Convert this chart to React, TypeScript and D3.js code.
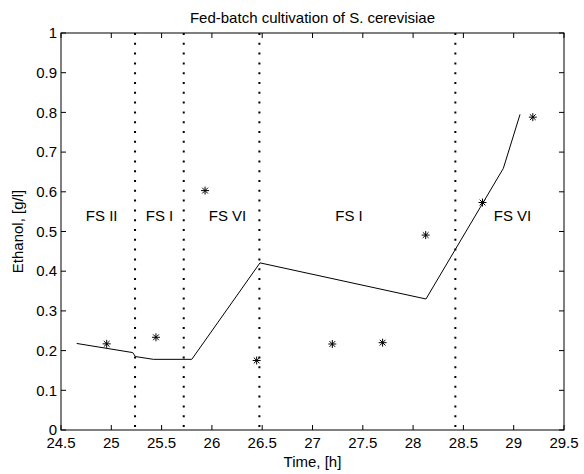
import React from "react";
import * as d3 from "d3";

const title = "Fed-batch cultivation of S. cerevisiae";
const xLabel = "Time, [h]";
const yLabel = "Ethanol, [g/l]";

const xTicks = [24.5, 25, 25.5, 26, 26.5, 27, 27.5, 28, 28.5, 29, 29.5];
const yTicks = [0, 0.1, 0.2, 0.3, 0.4, 0.5, 0.6, 0.7, 0.8, 0.9, 1];

const modelTime = [24.656, 25.213, 25.24, 25.418, 25.8, 26.478, 28.128, 28.897, 29.063];
const modelEthanol = [0.218, 0.195, 0.185, 0.178, 0.178, 0.421, 0.33, 0.659, 0.795];

const measTime = [24.954, 25.444, 25.932, 26.445, 27.197, 27.697, 28.125, 28.69, 29.19];
const measEthanol = [0.217, 0.2335, 0.603, 0.175, 0.2166, 0.22, 0.491, 0.573, 0.788];

const switchTimes = [25.236, 25.72, 26.472, 28.42];

const phaseLabels = ["FS II", "FS I", "FS VI", "FS I", "FS VI"];
const phaseLabelX = [24.904, 25.479, 26.155, 27.363, 28.988];
const phaseLabelY = 0.527;

const W = 584;
const H = 474;
const L = 61, R = 564, T = 33, B = 430;
const FONT = "'Liberation Sans', Arial, Helvetica, sans-serif";
const FS = 15;

export default function App() {
  const x = d3.scaleLinear().domain([24.5, 29.5]).range([L, R]);
  const y = d3.scaleLinear().domain([0, 1]).range([B, T]);
  const line = d3
    .line<number>()
    .x((_, i) => x(modelTime[i]))
    .y((d) => y(d));
  const tl = 5;
  const r = 4;
  return (
    <svg
      width={W}
      height={H}
      style={{ position: "absolute", left: 0, top: 0, background: "#fff" }}
      fontFamily={FONT}
    >
      <rect x={0} y={0} width={W} height={H} fill="#fff" />
      {/* title */}
      <text x={(L + R) / 2} y={23} textAnchor="middle" fontSize={FS} fill="#000">
        {title}
      </text>
      {/* switch lines */}
      {switchTimes.map((t, i) => (
        <line
          key={"s" + i}
          x1={x(t)}
          x2={x(t)}
          y1={y(1)}
          y2={y(0)}
          stroke="#000"
          strokeWidth={2}
          strokeDasharray="2 7.8"
        />
      ))}
      {/* model */}
      <path d={line(modelEthanol) || ""} fill="none" stroke="#000" strokeWidth={1} />
      {/* measurements */}
      {measTime.map((t, i) => {
        const cx = x(t);
        const cy = y(measEthanol[i]);
        const d = r * 0.72;
        return (
          <g key={"m" + i} stroke="#000" strokeWidth={1}>
            <line x1={cx - r} x2={cx + r} y1={cy} y2={cy} />
            <line x1={cx} x2={cx} y1={cy - r} y2={cy + r} />
            <line x1={cx - d} x2={cx + d} y1={cy - d} y2={cy + d} />
            <line x1={cx - d} x2={cx + d} y1={cy + d} y2={cy - d} />
          </g>
        );
      })}
      {/* phase labels */}
      {phaseLabels.map((s, i) => (
        <text
          key={"p" + i}
          x={x(phaseLabelX[i])}
          y={y(phaseLabelY)}
          textAnchor="middle"
          fontSize={FS}
          fill="#000"
        >
          {s}
        </text>
      ))}
      {/* axes box */}
      <rect x={L} y={T} width={R - L} height={B - T} fill="none" stroke="#000" strokeWidth={1} />
      {xTicks.map((t, i) => (
        <g key={"xt" + i}>
          <line x1={x(t)} x2={x(t)} y1={B} y2={B - tl} stroke="#000" strokeWidth={1} />
          <line x1={x(t)} x2={x(t)} y1={T} y2={T + tl} stroke="#000" strokeWidth={1} />
          <text x={x(t)} y={448} textAnchor="middle" fontSize={FS} fill="#000">
            {String(t)}
          </text>
        </g>
      ))}
      {yTicks.map((t, i) => (
        <g key={"yt" + i}>
          <line x1={L} x2={L + tl} y1={y(t)} y2={y(t)} stroke="#000" strokeWidth={1} />
          <line x1={R} x2={R - tl} y1={y(t)} y2={y(t)} stroke="#000" strokeWidth={1} />
          <text x={57} y={y(t)} dy="0.35em" textAnchor="end" fontSize={FS} fill="#000">
            {String(t)}
          </text>
        </g>
      ))}
      <text x={(L + R) / 2} y={467} textAnchor="middle" fontSize={FS} fill="#000">
        {xLabel}
      </text>
      <text
        transform={`translate(23,${(T + B) / 2}) rotate(-90)`}
        textAnchor="middle"
        fontSize={FS}
        fill="#000"
      >
        {yLabel}
      </text>
    </svg>
  );
}
